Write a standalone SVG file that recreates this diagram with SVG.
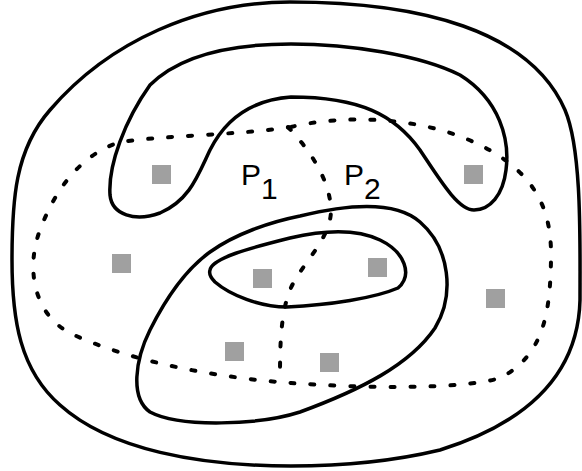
<svg xmlns="http://www.w3.org/2000/svg" width="582" height="471" viewBox="0 0 582 471">
<style>
.solid{fill:none;stroke:#000;stroke-width:3.5;stroke-linejoin:round}
.dash{fill:none;stroke:#000;stroke-width:4;stroke-dasharray:4 16;stroke-linecap:round}
.pt{fill:#a0a0a0}
.lbl{font-family:"Liberation Sans",Arial,sans-serif;font-size:30px;fill:#000}
</style>
<rect width="582" height="471" fill="#fff"/>
<g id="outer"><path class="solid" d="M 290 2 C 420 2 530 30 565 110 C 582 150 580 240 580 300 C 578 380 520 425 440 450 C 390 462 340 466 291 466 C 200 466 110 450 60 405 C 20 370 12 320 12 260 C 12 200 15 150 50 110 C 110 40 200 2 290 2 Z"/></g>
<g id="horseshoe"><path class="solid" d="M 291 44 C 350 44 420 55 460 75 C 500 100 510 140 506 170 C 503 195 490 210 474 210 C 458 210 440 180 420 150 C 395 115 360 97 291 97 C 250 100 225 120 210 150 C 198 175 190 200 160 213 C 135 222 112 215 110 195 C 108 165 125 120 150 85 C 180 55 230 44 291 44 Z"/></g>
<g id="ring"><path class="solid" d="M 300 216 C 345 205 395 200 420 222 C 450 248 455 295 435 328 C 410 365 360 390 300 412 C 260 425 180 428 150 412 C 130 398 135 360 150 330 C 165 300 185 270 210 252 C 235 234 270 222 300 216 Z"/></g>
<g id="inner"><path class="solid" d="M 210 270 C 212 258 250 248 290 238 C 320 231 355 228 380 240 C 405 252 413 275 398 288 C 375 298 330 305 287 307 C 260 307 230 295 215 282 C 210 277 209 273 210 270 Z"/></g>
<g id="connectors">
<path class="dash" d="M 291 127 C 340 115 420 115 480 145 C 540 175 552 215 551 260 C 550 310 545 355 500 378 C 460 390 360 388 291 383 C 220 378 130 362 70 333 C 35 315 25 270 40 230 C 55 190 80 155 120 142 C 170 135 240 135 291 127 Z"/>
<path class="dash" d="M 288 127 C 310 150 330 180 331 210 C 331 240 300 265 290 290 C 280 315 280 350 280 380"/>
</g>
<g id="points">
<rect class="pt" x="152" y="165" width="19" height="19"/>
<rect class="pt" x="464" y="165" width="19" height="19"/>
<rect class="pt" x="112" y="254" width="19" height="19"/>
<rect class="pt" x="253" y="269" width="19" height="19"/>
<rect class="pt" x="368" y="258" width="19" height="19"/>
<rect class="pt" x="486" y="289" width="19" height="19"/>
<rect class="pt" x="225" y="342" width="19" height="19"/>
<rect class="pt" x="320" y="353" width="19" height="19"/>
</g>
<g id="labels">
<text class="lbl" x="241" y="185">P<tspan dy="14">1</tspan></text>
<text class="lbl" x="344" y="185">P<tspan dy="14">2</tspan></text>
</g>
</svg>
